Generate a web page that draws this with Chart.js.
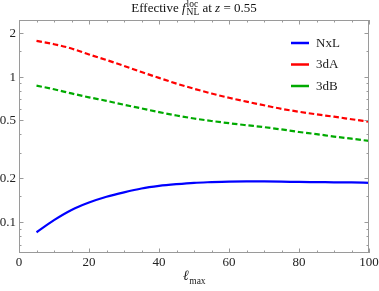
<!DOCTYPE html>
<html><head><meta charset="utf-8">
<script src="https://cdn.jsdelivr.net/npm/chart.js@4"></script>
<style>html,body{margin:0;padding:0;background:#fff;}#c{display:block;}</style>
</head><body>
<canvas id="c" width="379" height="291"></canvas>
<script>
// ---- data ----
const lmax = [5,10,15,20,25,30,35,40,45,50,55,60,65,70,75,80,85,90,95,100];
const nxl  = [0.085,0.103,0.121,0.136,0.149,0.160,0.170,0.177,0.182,0.186,0.188,0.1895,0.190,0.190,0.1895,0.1885,0.188,0.1875,0.187,0.186];
const d3A  = [1.76,1.67,1.56,1.42,1.30,1.185,1.075,0.98,0.895,0.825,0.765,0.715,0.672,0.635,0.60,0.573,0.550,0.530,0.509,0.489];
const d3B  = [0.867,0.818,0.766,0.72,0.681,0.640,0.604,0.570,0.540,0.515,0.495,0.478,0.463,0.449,0.433,0.416,0.402,0.387,0.374,0.361];
const seriesNames = ['NxL','3dA','3dB'];
const xTicks = [0,20,40,60,80,100];
const xMinor = [5,10,15,25,30,35,45,50,55,65,70,75,85,90,95];
const yTicks = [0.1,0.2,0.5,1,2];
const yTickLabels = ['0.1','0.2','0.5','1','2'];
const yMinor = [0.07,0.08,0.09,0.15,0.3,0.4,0.6,0.7,0.8,0.9,1.5];

const colors = ['rgb(0,0,255)','rgb(255,0,0)','rgb(0,170,0)'];
const dashes = [[],[5.5,2.8],[5.5,2.8]];
const series = [nxl,d3A,d3B];

const SERIF = '"Liberation Serif","DejaVu Serif",serif';

const decor = {
  id:'decor',
  afterDraw(chart){
    const {ctx, chartArea:a, scales:{x,y}} = chart;
    ctx.save();
    // frame
    ctx.strokeStyle = '#9a9a9a'; ctx.lineWidth = 1;
    ctx.strokeRect(a.left+0.5, a.top+0.5, a.right-a.left-1, a.bottom-a.top-1);
    // ticks
    const tick = (px, len, vertical) => {
      ctx.beginPath();
      if (vertical) {
        const X = Math.round(px)+0.5;
        ctx.moveTo(X, a.bottom); ctx.lineTo(X, a.bottom-len);
        ctx.moveTo(X, a.top); ctx.lineTo(X, a.top+len);
      } else {
        const Y = Math.round(px)+0.5;
        ctx.moveTo(a.left, Y); ctx.lineTo(a.left+len, Y);
        ctx.moveTo(a.right, Y); ctx.lineTo(a.right-len, Y);
      }
      ctx.stroke();
    };
    xTicks.forEach(v=>tick(x.getPixelForValue(v),4.5,true));
    xMinor.forEach(v=>tick(x.getPixelForValue(v),2.5,true));
    yTicks.forEach(v=>tick(y.getPixelForValue(v),4.5,false));
    yMinor.forEach(v=>tick(y.getPixelForValue(v),2.5,false));
    // tick labels
    ctx.fillStyle = '#222';
    ctx.font = '13px '+SERIF;
    ctx.textAlign = 'right'; ctx.textBaseline = 'middle';
    yTicks.forEach((v,i)=>ctx.fillText(yTickLabels[i], a.left-3, y.getPixelForValue(v)+0.5));
    ctx.textAlign = 'center';
    xTicks.forEach(v=>ctx.fillText(String(v), x.getPixelForValue(v), a.bottom+9.5));
    // axis title  l_max
    ctx.textAlign = 'left'; ctx.textBaseline = 'alphabetic';
    ctx.font = 'italic 14px '+SERIF;
    const cx = (a.left+a.right)/2;
    const lw = ctx.measureText('\u2113').width;
    ctx.font = '9.5px '+SERIF;
    const mw = ctx.measureText('max').width;
    let sx = cx - (lw+mw)/2;
    ctx.font = 'italic 14px '+SERIF;
    ctx.fillText('\u2113', sx, 280);
    ctx.font = '9.5px '+SERIF;
    ctx.fillText('max', sx+lw+0.5, 284);
    // title
    const T = '13px ', S = '9.5px ';
    ctx.font = T+SERIF; const w1 = ctx.measureText('Effective ').width;
    ctx.font = 'italic '+T+SERIF; const w2 = ctx.measureText('f').width;
    ctx.font = S+SERIF; const w3 = Math.max(ctx.measureText('loc').width, ctx.measureText('NL').width);
    ctx.font = T+SERIF; const w4 = ctx.measureText(' at ').width;
    ctx.font = 'italic '+T+SERIF; const w5 = ctx.measureText('z').width;
    ctx.font = T+SERIF; const w6 = ctx.measureText(' = 0.55').width;
    const total = w1+w2+1+w3+w4+w5+w6;
    let tx = 194 - total/2; const by = 12;
    ctx.fillStyle = '#111';
    ctx.font = T+SERIF; ctx.fillText('Effective ', tx, by); tx += w1;
    ctx.font = 'italic '+T+SERIF; ctx.fillText('f', tx, by); tx += w2+1;
    ctx.font = S+SERIF; ctx.fillText('loc', tx, by-5.5); ctx.fillText('NL', tx, by+3); tx += w3;
    ctx.font = T+SERIF; ctx.fillText(' at ', tx, by); tx += w4;
    ctx.font = 'italic '+T+SERIF; ctx.fillText('z', tx, by); tx += w5;
    ctx.font = T+SERIF; ctx.fillText(' = 0.55', tx, by);
    // legend
    const rows = [43, 64.5, 86];
    seriesNames.forEach((n,i)=>{
      ctx.strokeStyle = colors[i]; ctx.lineWidth = 2.5; ctx.setLineDash([]);
      ctx.beginPath(); ctx.moveTo(291, rows[i]); ctx.lineTo(309, rows[i]); ctx.stroke();
      ctx.fillStyle = '#222'; ctx.font = '13px '+SERIF; ctx.textBaseline = 'middle';
      ctx.fillText(n, 316, rows[i]+0.5);
    });
    ctx.restore();
  }
};

new Chart(document.getElementById('c'), {
  type:'line',
  data:{
    datasets: series.map((s,i)=>({
      label: seriesNames[i],
      data: lmax.map((l,j)=>({x:l, y:s[j]})),
      borderColor: colors[i],
      borderWidth: 2.2,
      borderDash: dashes[i],
      pointRadius: 0,
      fill: false,
      cubicInterpolationMode: 'monotone'
    }))
  },
  options:{
    responsive:false,
    animation:false,
    devicePixelRatio:1,
    layout:{padding:{left:19, right:10, top:20, bottom:38}},
    plugins:{legend:{display:false}, title:{display:false}, tooltip:{enabled:false}},
    scales:{
      x:{type:'linear', min:0, max:100, display:false},
      y:{type:'logarithmic', min:0.0612, max:2.45, display:false}
    }
  },
  plugins:[decor]
});
</script>
</body></html>
